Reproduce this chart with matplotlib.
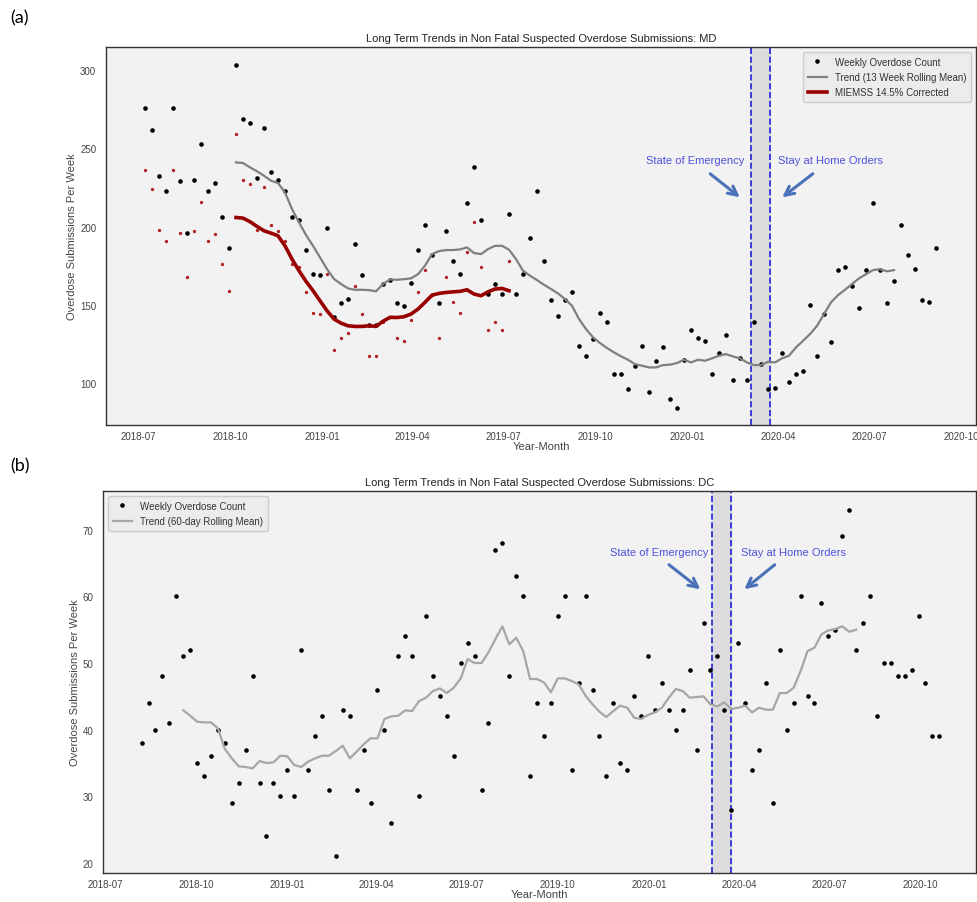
import matplotlib
matplotlib.use("Agg")
import matplotlib.pyplot as plt
import matplotlib.dates as mdates
import pandas as pd

plt.rcParams["font.family"] = ["Liberation Sans", "DejaVu Sans"]

# ---- MD (panel a) ----
md_start = "2018-07-08"
md_weekly = [276, 262, 232, 223, 276, 229, 196, 230, 253, 223, 228, 206, 186, 303, 269, 266,
             231, 263, 235, 230, 223, 206, 204, 185, 170, 169, 199, 142, 151, 154, 189, 169,
             137, 137, 163, 166, 151, 149, 164, 185, 201, 182, 151, 197, 178, 170, 215, 238,
             204, 157, 163, 157, 208, 157, 170, 193, 223, 178, 153, 143, 153, 158, 124, 117,
             128, 145, 139, 106, 106, 96, 111, 124, 94, 114, 123, 90, 84, 115, 134, 129,
             127, 106, 119, 131, 102, 116, 102, 139, 112, 96, 97, 119, 101, 106, 108, 150,
             117, 144, 126, 172, 174, 162, 148, 172, 215, 172, 151, 165, 201, 182, 173, 153,
             152, 186]
md_corrected = [236, 224, 198, 191, 236, 196, 168, 197, 216, 191, 195, 176, 159, 259, 230, 227,
                198, 225, 201, 197, 191, 176, 174, 158, 145, 144, 170, 121, 129, 132, 162, 144,
                117, 117, 139, 142, 129, 127, 140, 158, 172, 156, 129, 168, 152, 145, 184, 203,
                174, 134, 139, 134, 178]
md_trend_start = "2018-10-07"
md_trend = [241.0, 240.6, 237.8, 235.3, 232.5, 229.3, 227.8, 221.8, 211.2, 202.7, 194.6, 187.7,
            180.3, 172.8, 166.5, 163.3, 160.5, 159.6, 159.6, 159.4, 158.6, 163.3, 166.2, 166.0,
            166.4, 166.9, 169.6, 175.0, 182.4, 184.3, 185.0, 185.0, 185.4, 186.7, 183.1, 182.4,
            185.6, 187.7, 187.7, 185.2, 179.2, 171.8, 168.6, 165.8, 162.8, 160.1, 157.3, 153.7,
            149.4, 140.9, 134.5, 129.2, 125.6, 122.4, 119.6, 117.1, 114.9, 112.1, 111.1, 110.0,
            110.0, 111.5, 111.8, 112.8, 114.9, 113.2, 114.9, 114.3, 115.8, 117.5, 118.5, 117.0,
            115.8, 113.2, 111.5, 111.5, 113.6, 113.2, 115.8, 117.5, 122.8, 127.0, 131.3, 136.6,
            144.1, 151.6, 156.2, 159.6, 163.3, 166.9, 169.6, 172.2, 172.8, 171.4, 172.2]
md_corr_trend = [205.8, 205.4, 203.1, 200.1, 197.3, 195.8, 194.1, 187.7, 179.2, 171.8, 165.0,
                 159.0, 152.6, 146.2, 140.9, 138.3, 136.6, 136.2, 136.2, 136.6, 136.2, 139.5,
                 142.0, 141.9, 142.4, 144.1, 147.3, 151.6, 156.2, 157.3, 157.9, 158.3, 158.6,
                 159.6, 156.9, 155.8, 158.3, 160.1, 160.5, 159.0]

# ---- DC (panel b) ----
dc_start = "2018-08-07"
dc_weekly = [38, 44, 40, 48, 41, 60, 51, 52, 35, 33, 36, 40, 38, 29, 32, 37, 48, 32, 24, 32,
             30, 34, 30, 52, 34, 39, 42, 31, 21, 43, 42, 31, 37, 29, 46, 40, 26, 51, 54, 51,
             30, 57, 48, 45, 42, 36, 50, 53, 51, 31, 41, 67, 68, 48, 63, 60, 33, 44, 39, 44,
             57, 60, 34, 47, 60, 46, 39, 33, 44, 35, 34, 45, 42, 51, 43, 47, 43, 40, 43, 49,
             37, 56, 49, 51, 43, 28, 53, 44, 34, 37, 47, 29, 52, 40, 44, 60, 45, 44, 59, 54,
             55, 69, 73, 52, 56, 60, 42, 50, 50, 48, 48, 49, 57, 47, 39, 39]
dc_trend_start = "2018-09-18"
dc_trend = [42.9, 42.1, 41.2, 41.1, 41.1, 40.2, 37.1, 35.7, 34.5, 34.4, 34.2, 35.3, 35.0, 35.1,
            36.1, 36.0, 34.7, 34.4, 35.2, 35.7, 36.1, 36.1, 36.8, 37.6, 35.7, 36.7, 37.8, 38.7,
            38.7, 41.6, 42.0, 42.1, 42.9, 42.8, 44.3, 44.8, 45.8, 46.2, 45.5, 46.3, 47.7, 50.6,
            50.0, 50.0, 51.6, 53.6, 55.5, 52.8, 53.8, 51.8, 47.6, 47.6, 47.1, 45.6, 47.7, 47.7,
            47.3, 46.8, 45.1, 43.8, 42.7, 41.9, 42.8, 43.6, 43.3, 41.8, 41.6, 42.2, 42.6, 43.3,
            44.8, 46.1, 45.8, 44.8, 44.9, 45.0, 43.8, 43.5, 44.1, 43.1, 43.3, 43.6, 42.6, 43.3,
            43.0, 43.0, 45.5, 45.5, 46.3, 48.8, 51.8, 52.3, 54.3, 54.9, 55.1, 55.5, 54.7, 55.0]

emergency = pd.Timestamp("2020-03-05")
stay_home = pd.Timestamp("2020-03-24")

md_dates = pd.date_range(md_start, periods=len(md_weekly), freq="7D")
md_corr_dates = md_dates[:len(md_corrected)]
md_trend_dates = pd.date_range(md_trend_start, periods=len(md_trend), freq="7D")
md_corr_trend_dates = md_trend_dates[:len(md_corr_trend)]
dc_dates = pd.date_range(dc_start, periods=len(dc_weekly), freq="7D")
dc_trend_dates = pd.date_range(dc_trend_start, periods=len(dc_trend), freq="7D")

textGray = "#444444"
annBlue = "#5050dd"
arrowBlue = "#4a72b8"

fig = plt.figure(figsize=(9.77, 9.03), dpi=100)
fig.patch.set_facecolor("white")
axA = fig.add_axes([0.1085, 0.5282, 0.8905, 0.4186])
axB = fig.add_axes([0.1054, 0.0321, 0.8936, 0.4230])


def style_axes(ax):
    ax.set_facecolor("#f2f2f2")
    for s in ax.spines.values():
        s.set_color("#333333")
        s.set_linewidth(1.0)
    ax.tick_params(length=0, labelsize=7, colors=textGray)
    ax.tick_params(axis="y", pad=7)
    ax.tick_params(axis="x", pad=4)
    ax.xaxis.set_major_locator(mdates.MonthLocator(bymonth=[1, 4, 7, 10]))
    ax.xaxis.set_major_formatter(mdates.DateFormatter("%Y-%m"))
    ax.set_xlabel("Year-Month", fontsize=8, color=textGray, labelpad=0)
    ax.set_ylabel("Overdose Submissions Per Week", fontsize=8, color=textGray, labelpad=2)


def mark_orders(ax, ytext, ystart, ytip, emerg_txt, emerg_start, emerg_tip, home_txt, home_start, home_tip):
    ax.axvspan(emergency, stay_home, color="#dcdcdc", zorder=0)
    ax.axvline(emergency, color="#2020dd", ls="--", lw=1.2)
    ax.axvline(stay_home, color="#2020dd", ls="--", lw=1.2)
    ax.text(pd.Timestamp(emerg_txt), ytext, "State of Emergency", color=annBlue,
            fontsize=8, ha="center", va="center")
    ax.text(pd.Timestamp(home_txt), ytext, "Stay at Home Orders", color=annBlue,
            fontsize=8, ha="center", va="center")
    ax.annotate("", xy=(pd.Timestamp(emerg_tip), ytip), xytext=(pd.Timestamp(emerg_start), ystart),
                arrowprops=dict(arrowstyle="->", color=arrowBlue, lw=2.2, mutation_scale=16))
    ax.annotate("", xy=(pd.Timestamp(home_tip), ytip), xytext=(pd.Timestamp(home_start), ystart),
                arrowprops=dict(arrowstyle="->", color=arrowBlue, lw=2.2, mutation_scale=16))


def add_legend(ax, loc):
    leg = ax.legend(loc=loc, fontsize=7, frameon=True, facecolor="#ececec",
                    edgecolor="#cccccc", framealpha=1, borderaxespad=0.5, handlelength=2.0,
                    labelspacing=0.55, borderpad=0.5)
    for t in leg.get_texts():
        t.set_color("#333333")


# panel a
style_axes(axA)
axA.plot(md_corr_dates, md_corrected, "o", color="#b22222", ms=1.4, zorder=3)
axA.plot(md_dates, md_weekly, "o", color="black", ms=2.3, label="Weekly Overdose Count", zorder=4)
axA.plot(md_trend_dates, md_trend, color="#7f7f7f", lw=1.6, label="Trend (13 Week Rolling Mean)", zorder=5)
axA.plot(md_corr_trend_dates, md_corr_trend, color="#990000", lw=2.6, label="MIEMSS 14.5% Corrected", zorder=5)
mark_orders(axA, 242.5, 234.8, 217.6, "2020-01-09", "2020-01-22", "2020-02-25",
            "2020-05-23", "2020-05-08", "2020-04-03")
axA.set_xlim(pd.Timestamp("2018-05-30"), pd.Timestamp("2020-10-16"))
axA.set_ylim(73.2, 314.7)
axA.set_yticks([100, 150, 200, 250, 300])
axA.set_title("Long Term Trends in Non Fatal Suspected Overdose Submissions: MD",
              fontsize=8, color="#222222", pad=4)
add_legend(axA, "upper right")

# panel b
style_axes(axB)
axB.plot(dc_dates, dc_weekly, "o", color="black", ms=2.3, label="Weekly Overdose Count", zorder=4)
axB.plot(dc_trend_dates, dc_trend, color="#a6a6a6", lw=1.6, label="Trend (60-day Rolling Mean)", zorder=5)
mark_orders(axB, 66.6, 65.0, 60.8, "2020-01-11", "2020-01-19", "2020-02-24",
            "2020-05-26", "2020-05-09", "2020-04-04")
axB.set_xlim(pd.Timestamp("2018-06-29"), pd.Timestamp("2020-11-26"))
axB.set_ylim(18.5, 75.8)
axB.set_yticks([20, 30, 40, 50, 60, 70])
axB.set_title("Long Term Trends in Non Fatal Suspected Overdose Submissions: DC",
              fontsize=8, color="#222222", pad=4)
add_legend(axB, "upper left")

fig.text(0.010, 0.980, "(a)", fontsize=13, family=["Lato", "DejaVu Sans"], va="center")
fig.text(0.010, 0.483, "(b)", fontsize=13, family=["Lato", "DejaVu Sans"], va="center")

fig.savefig("out.png", dpi=100)
